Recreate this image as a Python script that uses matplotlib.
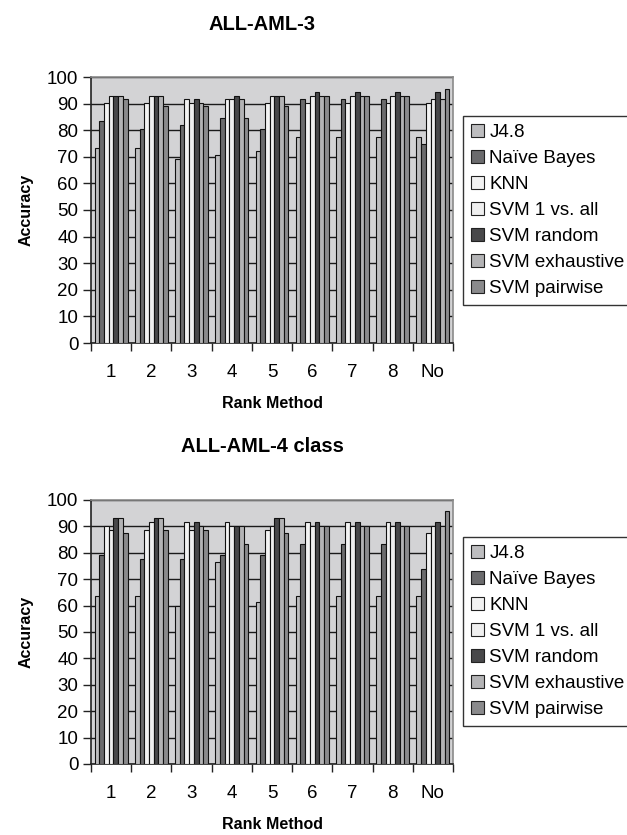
import numpy as np
import matplotlib.pyplot as plt
from matplotlib.patches import Patch

plt.rcParams['font.family'] = ['Liberation Sans', 'DejaVu Sans']

rank_methods = ['1', '2', '3', '4', '5', '6', '7', '8', 'No']
classifiers = ['J4.8', 'Naïve Bayes', 'KNN', 'SVM 1 vs. all',
               'SVM random', 'SVM exhaustive', 'SVM pairwise']
bar_colors = ['#bdbdbf', '#6b6b6d', '#f2f2f2', '#efefef',
              '#48484a', '#b3b3b5', '#8a8a8c']

# accuracy per classifier, one value per rank method
aml3 = {
    'J4.8':           [73.4, 73.4, 69.3, 70.7, 72.0, 77.6, 77.6, 77.6, 77.6],
    'Naïve Bayes':    [83.3, 80.3, 82.0, 84.7, 80.3, 91.6, 91.6, 91.6, 74.9],
    'KNN':            [90.3, 90.3, 91.6, 91.6, 90.3, 90.3, 90.3, 90.3, 90.3],
    'SVM 1 vs. all':  [93.0, 93.0, 90.3, 91.6, 93.0, 93.0, 93.0, 93.0, 91.6],
    'SVM random':     [93.0, 93.0, 91.6, 93.0, 93.0, 94.2, 94.2, 94.2, 94.2],
    'SVM exhaustive': [93.0, 93.0, 90.3, 91.6, 93.0, 93.0, 93.0, 93.0, 91.6],
    'SVM pairwise':   [91.6, 89.0, 89.0, 84.7, 89.0, 93.0, 93.0, 93.0, 95.6],
}
aml4 = {
    'J4.8':           [63.8, 63.8, 59.8, 76.4, 61.2, 63.8, 63.8, 63.8, 63.8],
    'Naïve Bayes':    [79.0, 77.7, 77.7, 79.0, 79.0, 83.2, 83.2, 83.2, 73.7],
    'KNN':            [90.3, 88.7, 91.5, 91.5, 88.7, 91.5, 91.5, 91.5, 87.4],
    'SVM 1 vs. all':  [88.7, 91.5, 88.7, 90.3, 90.3, 90.3, 90.3, 90.3, 90.3],
    'SVM random':     [93.0, 93.0, 91.5, 90.3, 93.0, 91.5, 91.5, 91.5, 91.5],
    'SVM exhaustive': [93.0, 93.0, 90.3, 90.3, 93.0, 90.3, 90.3, 90.3, 90.3],
    'SVM pairwise':   [87.4, 88.7, 88.7, 83.2, 87.4, 90.3, 90.3, 90.3, 95.7],
}

W, H = 627, 835
fig = plt.figure(figsize=(W / 100, H / 100), dpi=100)


def draw_panel(ax, data, title, title_y, legend_top):
    x = np.arange(len(rank_methods))
    n = len(classifiers)
    bw = 0.82 / n
    for i, name in enumerate(classifiers):
        offs = (i - (n - 1) / 2) * bw
        ax.bar(x + offs, data[name], width=bw, color=bar_colors[i],
               edgecolor='#111111', linewidth=0.8, zorder=3)

    ax.set_facecolor('#d3d3d5')
    ax.set_xlim(-0.5, len(rank_methods) - 0.5)
    ax.set_ylim(0, 100)
    ax.set_yticks(np.arange(0, 101, 10))
    ax.yaxis.grid(True, color='#1a1a1a', linewidth=1.0, zorder=1)
    ax.set_axisbelow(True)

    # categories labelled at centres, tick marks between groups
    ax.set_xticks(x)
    ax.set_xticklabels(rank_methods)
    ax.set_xticks(np.arange(-0.5, len(rank_methods)), minor=True)
    ax.tick_params(axis='x', which='major', length=0, pad=15, labelsize=13.5)
    ax.tick_params(axis='x', which='minor', length=6, width=1, color='#222222')
    ax.tick_params(axis='y', length=6, width=1, color='#222222', labelsize=13.5, pad=3)

    for side in ['top', 'right']:
        ax.spines[side].set_color('#8a8a8a')
        ax.spines[side].set_linewidth(1.2)
    for side in ['left', 'bottom']:
        ax.spines[side].set_color('#222222')
        ax.spines[side].set_linewidth(1.2)

    ax.set_xlabel('Rank Method', fontsize=11.5, fontweight='bold', labelpad=11)
    ax.set_ylabel('Accuracy', fontsize=11.5, fontweight='bold', labelpad=10)
    fig.text(262 / W, 1 - title_y / H, title, fontsize=14.5, fontweight='bold',
             ha='center', va='center')

    handles = [Patch(facecolor=c, edgecolor='#222222', linewidth=0.8)
               for c in bar_colors]
    fig.legend(handles, classifiers, loc='upper left',
               bbox_to_anchor=(463 / W, 1 - legend_top / H),
               fontsize=13.5, frameon=True, fancybox=False,
               edgecolor='#333333', framealpha=1, borderpad=0.4,
               handlelength=0.7, handleheight=0.7, handletextpad=0.3,
               labelspacing=0.48, borderaxespad=0)


ax1 = fig.add_axes([91 / W, 1 - 343 / H, 362 / W, 266 / H])
draw_panel(ax1, aml3, 'ALL-AML-3', 25, 116)

ax2 = fig.add_axes([91 / W, 1 - 764 / H, 362 / W, 264 / H])
draw_panel(ax2, aml4, 'ALL-AML-4 class', 446, 537)

fig.savefig('out.png', dpi=100)
plt.close(fig)
